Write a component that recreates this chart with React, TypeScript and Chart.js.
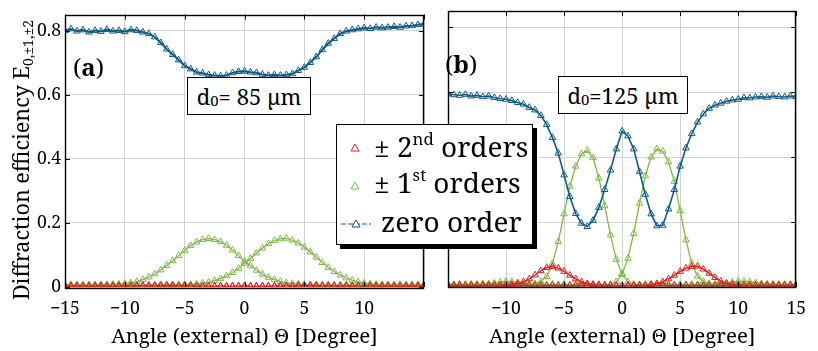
import React, { useEffect, useRef } from "react";
import { Chart, registerables } from "chart.js";
Chart.register(...registerables);

const FONT = `"Noto Serif"`;

const angles = [
  -15, -14.5, -14, -13.5, -13, -12.5, -12, -11.5, -11, -10.5,
  -10, -9.5, -9, -8.5, -8, -7.5, -7, -6.5, -6, -5.5,
  -5, -4.5, -4, -3.5, -3, -2.5, -2, -1.5, -1, -0.5,
  0, 0.5, 1, 1.5, 2, 2.5, 3, 3.5, 4, 4.5,
  5, 5.5, 6, 6.5, 7, 7.5, 8, 8.5, 9, 9.5,
  10, 10.5, 11, 11.5, 12, 12.5, 13, 13.5, 14, 14.5,
  15,
];

// Panel (a): d0 = 85 µm
const zeroA = [
  0.800, 0.805, 0.798, 0.802, 0.795, 0.800, 0.797, 0.803, 0.798, 0.800,
  0.796, 0.802, 0.800, 0.795, 0.790, 0.780, 0.762, 0.742, 0.725, 0.708,
  0.690, 0.680, 0.670, 0.667, 0.662, 0.660, 0.658, 0.660, 0.668, 0.672,
  0.673, 0.670, 0.668, 0.663, 0.660, 0.662, 0.660, 0.662, 0.665, 0.675,
  0.685, 0.700, 0.718, 0.740, 0.760, 0.775, 0.790, 0.798, 0.802, 0.805,
  0.808, 0.806, 0.810, 0.808, 0.810, 0.812, 0.810, 0.814, 0.815, 0.818,
  0.820,
];
const minus1A = [
  0.006, 0.007, 0.006, 0.006, 0.007, 0.006, 0.007, 0.007, 0.008, 0.009,
  0.011, 0.013, 0.017, 0.023, 0.031, 0.041, 0.053, 0.067, 0.082, 0.098,
  0.114, 0.129, 0.140, 0.148, 0.151, 0.148, 0.141, 0.130, 0.115, 0.098,
  0.080, 0.066, 0.052, 0.040, 0.030, 0.023, 0.017, 0.013, 0.011, 0.009,
  0.008, 0.007, 0.007, 0.006, 0.007, 0.006, 0.006, 0.007, 0.006, 0.006,
  0.007, 0.006, 0.006, 0.007, 0.006, 0.006, 0.007, 0.006, 0.006, 0.007,
  0.006,
];
const plus1A = [
  0.006, 0.006, 0.007, 0.006, 0.006, 0.007, 0.006, 0.006, 0.007, 0.006,
  0.006, 0.007, 0.006, 0.006, 0.007, 0.006, 0.007, 0.007, 0.007, 0.007,
  0.008, 0.008, 0.009, 0.012, 0.015, 0.020, 0.026, 0.035, 0.045, 0.058,
  0.074, 0.089, 0.106, 0.121, 0.135, 0.145, 0.150, 0.152, 0.146, 0.137,
  0.124, 0.109, 0.093, 0.076, 0.061, 0.048, 0.037, 0.028, 0.021, 0.016,
  0.012, 0.010, 0.008, 0.007, 0.007, 0.006, 0.007, 0.006, 0.006, 0.007,
  0.006,
];
const minus2A = [
  0.003, 0.002, 0.003, 0.003, 0.002, 0.003, 0.003, 0.002, 0.003, 0.003,
  0.003, 0.003, 0.004, 0.004, 0.004, 0.005, 0.005, 0.005, 0.005, 0.004,
  0.004, 0.004, 0.003, 0.003, 0.003, 0.002, 0.003, 0.002, 0.003, 0.002,
  0.003, 0.002, 0.003, 0.002, 0.002, 0.003, 0.002, 0.003, 0.002, 0.003,
  0.002, 0.003, 0.002, 0.003, 0.002, 0.003, 0.002, 0.003, 0.002, 0.003,
  0.002, 0.003, 0.002, 0.003, 0.002, 0.003, 0.002, 0.003, 0.002, 0.003,
  0.002,
];
const plus2A = [
  0.002, 0.003, 0.002, 0.003, 0.002, 0.003, 0.002, 0.003, 0.002, 0.003,
  0.002, 0.003, 0.002, 0.003, 0.002, 0.003, 0.002, 0.003, 0.002, 0.003,
  0.002, 0.003, 0.002, 0.003, 0.002, 0.002, 0.003, 0.003, 0.002, 0.003,
  0.003, 0.003, 0.002, 0.003, 0.003, 0.003, 0.004, 0.004, 0.004, 0.005,
  0.005, 0.005, 0.005, 0.004, 0.004, 0.004, 0.003, 0.003, 0.003, 0.003,
  0.002, 0.003, 0.003, 0.002, 0.003, 0.003, 0.002, 0.003, 0.003, 0.002,
  0.003,
];

// Panel (b): d0 = 125 µm
const zeroB = [
  0.595, 0.592, 0.590, 0.593, 0.588, 0.590, 0.586, 0.588, 0.583, 0.580,
  0.578, 0.574, 0.568, 0.563, 0.553, 0.545, 0.528, 0.500, 0.460, 0.412,
  0.345, 0.278, 0.226, 0.196, 0.186, 0.205, 0.245, 0.300, 0.360, 0.425,
  0.480, 0.465, 0.425, 0.355, 0.285, 0.225, 0.188, 0.190, 0.240, 0.300,
  0.372, 0.428, 0.472, 0.508, 0.533, 0.550, 0.560, 0.566, 0.572, 0.576,
  0.578, 0.583, 0.582, 0.585, 0.586, 0.584, 0.588, 0.586, 0.585, 0.588,
  0.586,
];
const minus1B = [
  0.008, 0.007, 0.008, 0.008, 0.007, 0.008, 0.009, 0.010, 0.012, 0.015,
  0.017, 0.016, 0.013, 0.010, 0.008, 0.010, 0.017, 0.032, 0.072, 0.140,
  0.225, 0.310, 0.372, 0.410, 0.420, 0.398, 0.335, 0.250, 0.160, 0.085,
  0.040, 0.016, 0.008, 0.007, 0.008, 0.009, 0.010, 0.009, 0.008, 0.007,
  0.008, 0.007, 0.008, 0.007, 0.008, 0.007, 0.008, 0.007, 0.008, 0.007,
  0.008, 0.007, 0.008, 0.007, 0.008, 0.007, 0.008, 0.007, 0.008, 0.007,
  0.008,
];
const plus1B = [
  0.008, 0.007, 0.008, 0.007, 0.008, 0.007, 0.008, 0.007, 0.008, 0.007,
  0.008, 0.007, 0.008, 0.007, 0.008, 0.007, 0.008, 0.007, 0.008, 0.007,
  0.008, 0.007, 0.008, 0.009, 0.010, 0.009, 0.008, 0.007, 0.008, 0.016,
  0.040, 0.088, 0.165, 0.258, 0.342, 0.400, 0.425, 0.418, 0.385, 0.325,
  0.235, 0.145, 0.072, 0.033, 0.017, 0.010, 0.008, 0.010, 0.012, 0.015,
  0.017, 0.018, 0.016, 0.013, 0.010, 0.009, 0.008, 0.008, 0.007, 0.008,
  0.008,
];
const minus2B = [
  0.005, 0.004, 0.005, 0.004, 0.005, 0.004, 0.005, 0.005, 0.005, 0.006,
  0.006, 0.008, 0.011, 0.016, 0.025, 0.037, 0.050, 0.060, 0.063, 0.058,
  0.048, 0.036, 0.025, 0.016, 0.010, 0.007, 0.005, 0.005, 0.004, 0.004,
  0.004, 0.005, 0.004, 0.005, 0.004, 0.005, 0.004, 0.005, 0.004, 0.005,
  0.004, 0.005, 0.004, 0.005, 0.004, 0.005, 0.004, 0.005, 0.004, 0.005,
  0.004, 0.005, 0.004, 0.005, 0.004, 0.005, 0.004, 0.005, 0.004, 0.005,
  0.004,
];
const plus2B = [
  0.005, 0.004, 0.005, 0.004, 0.005, 0.004, 0.005, 0.004, 0.005, 0.004,
  0.005, 0.004, 0.005, 0.004, 0.005, 0.004, 0.005, 0.004, 0.005, 0.004,
  0.005, 0.004, 0.005, 0.004, 0.005, 0.004, 0.005, 0.004, 0.005, 0.004,
  0.004, 0.005, 0.005, 0.005, 0.005, 0.007, 0.010, 0.016, 0.025, 0.036,
  0.048, 0.058, 0.063, 0.064, 0.055, 0.042, 0.029, 0.018, 0.011, 0.008,
  0.006, 0.005, 0.005, 0.004, 0.005, 0.004, 0.005, 0.004, 0.005, 0.004,
  0.005,
];

const xTickValues = [-15, -10, -5, 0, 5, 10, 15];
const xTickLabelsA = ["\u221215", "\u221210", "\u22125", "0", "5", "10", ""];
const xTickLabelsB = ["", "\u221210", "\u22125", "0", "5", "10", "15"];
const yTickValues = [0, 0.2, 0.4, 0.6, 0.8];
const yTickLabels = ["0", "0.2", "0.4", "0.6", "0.8"];
const xTitle = "Angle (external) \u0398 [Degree]";
const yTitleMain = "Diffraction efficiency E";
const yTitleSub = "0,\u00b11,\u00b12";

const BLUE = "#0f5b87";
const GREEN = "#7dba43";
const RED = "#e02020";

const TICK_SIZE = 17.5;
const TITLE_SIZE = 20.5;

const framePlugin = {
  id: "frameTicks",
  afterDraw(chart: any) {
    const { ctx, chartArea: ca, scales } = chart;
    ctx.save();
    ctx.strokeStyle = "#000";
    ctx.lineWidth = 1;
    ctx.beginPath();
    xTickValues.forEach((v) => {
      const px = Math.round(scales.x.getPixelForValue(v)) + 0.5;
      ctx.moveTo(px, ca.bottom);
      ctx.lineTo(px, ca.bottom - 5);
      ctx.moveTo(px, ca.top);
      ctx.lineTo(px, ca.top + 5);
    });
    yTickValues.forEach((v) => {
      const py = Math.round(scales.y.getPixelForValue(v)) + 0.5;
      ctx.moveTo(ca.left, py);
      ctx.lineTo(ca.left + 5, py);
      ctx.moveTo(ca.right, py);
      ctx.lineTo(ca.right - 5, py);
    });
    ctx.stroke();
    ctx.lineWidth = 1.4;
    ctx.strokeRect(
      Math.round(ca.left) + 0.5,
      Math.round(ca.top) + 0.5,
      Math.round(ca.right - ca.left) - 1,
      Math.round(ca.bottom - ca.top)
    );
    ctx.restore();
  },
};

const yTitlePlugin = {
  id: "yTitle",
  afterDraw(chart: any) {
    const ctx = chart.ctx;
    ctx.save();
    ctx.fillStyle = "#000";
    ctx.font = `21.5px ${FONT}`;
    const w1 = ctx.measureText(yTitleMain).width;
    ctx.font = `14px ${FONT}`;
    const w2 = ctx.measureText(yTitleSub).width;
    const total = w1 + w2;
    ctx.translate(29, 160);
    ctx.rotate(-Math.PI / 2);
    ctx.textAlign = "left";
    ctx.textBaseline = "alphabetic";
    ctx.font = `21.5px ${FONT}`;
    ctx.fillText(yTitleMain, -total / 2, 0);
    ctx.font = `14px ${FONT}`;
    ctx.fillText(yTitleSub, -total / 2 + w1, 4);
    ctx.restore();
  },
};

function makeDataset(values: number[], color: string, width: number, order: number) {
  return {
    data: angles.map((a, i) => ({ x: a, y: values[i] })),
    borderColor: color,
    borderWidth: width,
    pointStyle: "triangle",
    pointRadius: 3.8,
    pointBorderWidth: 1,
    pointBorderColor: color,
    pointBackgroundColor: "rgba(255,255,255,0)",
    fill: false,
    tension: 0,
    order,
  };
}

function makeConfig(isA: boolean): any {
  const datasets = isA
    ? [
        makeDataset(zeroA, BLUE, 2, 1),
        makeDataset(minus2A, RED, 1, 2),
        makeDataset(plus2A, RED, 1, 2),
        makeDataset(minus1A, GREEN, 1.2, 3),
        makeDataset(plus1A, GREEN, 1.2, 3),
      ]
    : [
        makeDataset(zeroB, BLUE, 1.6, 1),
        makeDataset(minus2B, RED, 1.4, 2),
        makeDataset(plus2B, RED, 1.4, 2),
        makeDataset(minus1B, GREEN, 1.3, 3),
        makeDataset(plus1B, GREEN, 1.3, 3),
      ];
  const xLabels = isA ? xTickLabelsA : xTickLabelsB;
  return {
    type: "line",
    data: { datasets },
    options: {
      responsive: false,
      animation: false,
      events: [],
      font: { family: FONT },
      layout: { padding: { top: 11, right: isA ? 2 : 10, left: 0, bottom: 0 } },
      plugins: { legend: { display: false }, tooltip: { enabled: false } },
      scales: {
        x: {
          type: "linear",
          min: -15,
          max: 15,
          afterBuildTicks: (s: any) => {
            s.ticks = xTickValues.map((v) => ({ value: v }));
          },
          afterFit: (s: any) => {
            s.height = 64;
          },
          ticks: {
            autoSkip: false,
            maxRotation: 0,
            padding: 12,
            color: "#000",
            font: { family: FONT, size: TICK_SIZE },
            callback: (_v: any, i: number) => xLabels[i],
          },
          grid: { color: "#d2d2d2", lineWidth: 1, drawTicks: false },
          border: { display: false },
          title: {
            display: true,
            text: xTitle,
            color: "#000",
            font: { family: FONT, size: TITLE_SIZE },
            padding: { top: 0, bottom: 2 },
          },
        },
        y: {
          type: "linear",
          min: 0,
          max: 0.85,
          afterBuildTicks: (s: any) => {
            s.ticks = yTickValues.map((v) => ({ value: v }));
          },
          afterFit: (s: any) => {
            s.width = isA ? 65 : 2;
          },
          ticks: {
            display: isA,
            padding: 4,
            color: "#000",
            font: { family: FONT, size: TICK_SIZE },
            callback: (_v: any, i: number) => yTickLabels[i],
          },
          grid: { color: "#d2d2d2", lineWidth: 1, drawTicks: false },
          border: { display: false },
        },
      },
    },
    plugins: isA ? [framePlugin, yTitlePlugin] : [framePlugin],
  };
}

function Tri({ color }: { color: string }) {
  return (
    <svg width="10" height="9" style={{ display: "block" }}>
      <polygon points="5,1 9,8 1,8" fill="none" stroke={color} strokeWidth="1" />
    </svg>
  );
}

export default function App() {
  const refA = useRef<HTMLCanvasElement>(null);
  const refB = useRef<HTMLCanvasElement>(null);
  useEffect(() => {
    const a = new Chart(refA.current as HTMLCanvasElement, makeConfig(true));
    const b = new Chart(refB.current as HTMLCanvasElement, makeConfig(false));
    return () => {
      a.destroy();
      b.destroy();
    };
  }, []);

  const legendFont = 28;
  const rowStyle = (top: number, left: number): React.CSSProperties => ({
    position: "absolute",
    top,
    left,
    fontFamily: FONT,
    fontSize: legendFont,
    lineHeight: `${legendFont}px`,
    whiteSpace: "nowrap",
  });
  const sup: React.CSSProperties = { fontSize: "0.6em", position: "relative", top: "-0.7em" };
  const sub: React.CSSProperties = { fontSize: "0.68em", position: "relative", top: "0.3em" };
  const boxStyle = (left: number, top: number, width: number): React.CSSProperties => ({
    position: "absolute",
    left,
    top,
    width,
    height: 38,
    boxSizing: "border-box",
    border: "1.3px solid #000",
    background: "#fff",
    fontFamily: FONT,
    fontSize: 22,
    display: "flex",
    alignItems: "center",
    justifyContent: "center",
    whiteSpace: "nowrap",
  });

  return (
    <div
      style={{
        position: "fixed",
        left: 0,
        top: 0,
        width: 818,
        height: 351,
        background: "#fff",
        overflow: "hidden",
        fontFamily: FONT,
        color: "#000",
      }}
    >
      <canvas ref={refA} width={436} height={351} style={{ position: "absolute", left: 0, top: 0, width: 436, height: 351 }} />
      <canvas ref={refB} width={382} height={351} style={{ position: "absolute", left: 436, top: 0, width: 382, height: 351 }} />

      <div style={{ position: "absolute", left: 73, top: 55, fontFamily: FONT, fontSize: 24, lineHeight: "24px" }}>
        (<b>a</b>)
      </div>
      <div style={{ position: "absolute", left: 445, top: 52, fontFamily: FONT, fontSize: 24, lineHeight: "24px" }}>
        (<b>b</b>)
      </div>

      <div style={boxStyle(187, 77, 124)}>
        d<span style={sub}>0</span>= 85 µm
      </div>
      <div style={boxStyle(558, 76, 130)}>
        d<span style={sub}>0</span>=125 µm
      </div>

      <div
        style={{
          position: "absolute",
          left: 336,
          top: 124,
          width: 197,
          height: 121,
          boxSizing: "border-box",
          border: "1.5px solid #000",
          background: "#fff",
          boxShadow: "4px 4px 0 #000",
        }}
      >
        <div style={{ position: "absolute", left: 13, top: 18 }}>
          <Tri color={RED} />
        </div>
        <div style={{ position: "absolute", left: 13, top: 56 }}>
          <Tri color={GREEN} />
        </div>
        <div style={{ position: "absolute", left: 4, top: 94 }}>
          <svg width="30" height="9" style={{ display: "block" }}>
            <line x1="0" y1="5" x2="30" y2="5" stroke={BLUE} strokeWidth="1" strokeDasharray="5 2" />
            <polygon points="15,1 19,8 11,8" fill="#fff" stroke={BLUE} strokeWidth="1" />
          </svg>
        </div>
        <div style={rowStyle(7, 37)}>
          ± 2<span style={sup}>nd</span> orders
        </div>
        <div style={rowStyle(43, 37)}>
          ± 1<span style={sup}>st</span> orders
        </div>
        <div style={rowStyle(82, 44)}>zero order</div>
      </div>
    </div>
  );
}
